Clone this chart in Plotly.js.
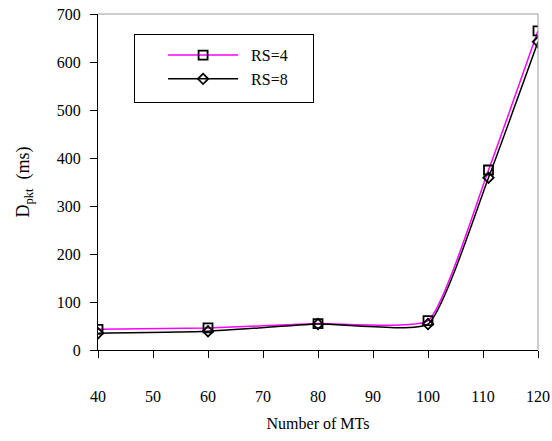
<!DOCTYPE html>
<html>
<head>
<meta charset="utf-8">
<script src="https://cdn.plot.ly/plotly-3.0.1.min.js"></script>
<style>html,body{margin:0;padding:0;background:#fff;}#chart{width:552px;height:441px;}</style>
</head>
<body>
<div id="chart"></div>
<script>
var numMTs = [40, 60, 80, 100, 111, 120];
var rs4 = [43, 46, 55, 61, 375, 665];
var rs8 = [35, 39, 54, 54, 359, 642];
var seriesNames = ['RS=4', 'RS=8'];
var xTicks = [40, 50, 60, 70, 80, 90, 100, 110, 120];
var yTicks = [0, 100, 200, 300, 400, 500, 600, 700];

var fam = '"Liberation Serif", "Times New Roman", Times, serif';
function F(size){ return {family: fam, size: size || 16, color: '#000'}; }

var traces = [
  {x: numMTs, y: rs4, name: seriesNames[0], type: 'scatter', mode: 'lines+markers',
   line: {color: '#ff00ff', width: 1.5, shape: 'spline', smoothing: 0.45},
   marker: {symbol: 'square-open', size: 9, color: '#000', line: {color: '#000', width: 1.8}}},
  {x: numMTs, y: rs8, name: seriesNames[1], type: 'scatter', mode: 'lines+markers',
   line: {color: '#000', width: 1.5, shape: 'spline', smoothing: 0.45},
   marker: {symbol: 'diamond-open', size: 8, color: '#000', line: {color: '#000', width: 1.8}}}
];

var layout = {
  width: 552, height: 441,
  margin: {l: 98, r: 14, t: 14, b: 91, pad: 0},
  paper_bgcolor: '#fff', plot_bgcolor: '#fff',
  font: F(16),
  showlegend: true,
  legend: {x: 0.082, y: 0.94, xanchor: 'left', yanchor: 'top',
    bordercolor: '#000', borderwidth: 1, bgcolor: 'rgba(255,255,255,0)',
    font: F(16), itemwidth: 106, tracegroupgap: 0},
  xaxis: {range: [40, 120], tickvals: xTicks, ticktext: xTicks.map(String),
    showgrid: false, zeroline: false, showline: true, linecolor: '#000', linewidth: 1,
    ticks: 'outside', ticklen: 7, tickcolor: '#000', tickfont: F(16),
    ticklabelstandoff: 25,
    title: {text: 'Number of MTs', font: F(16), standoff: 13}},
  yaxis: {range: [0, 700], tickvals: yTicks, ticktext: yTicks.map(String),
    showgrid: false, zeroline: false, showline: true, linecolor: '#000', linewidth: 1,
    ticks: 'outside', ticklen: 7, tickcolor: '#000', tickfont: F(16),
    ticklabelstandoff: 6,
    title: {text: 'D<sub>pkt</sub>  (ms)', font: F(18), standoff: 22}},
  shapes: [
    {type: 'line', xref: 'paper', yref: 'paper', x0: 0, x1: 1, y0: 1, y1: 1, line: {color: '#9a9a9a', width: 1}},
    {type: 'line', xref: 'paper', yref: 'paper', x0: 1, x1: 1, y0: 0, y1: 1, line: {color: '#9a9a9a', width: 1}}
  ]
};

Plotly.newPlot('chart', traces, layout, {displayModeBar: false, staticPlot: true}).then(function(gd){
  var items = gd.querySelectorAll('.legend .traces');
  items.forEach(function(it){
    it.querySelectorAll('.legendlines path').forEach(function(p){ p.setAttribute('d', 'M33,0h70'); });
    it.querySelectorAll('.legendpoints path').forEach(function(p){
      var t = p.getAttribute('transform') || '';
      p.setAttribute('transform', t.replace(/translate\(([^,]+),/, 'translate(68,'));
    });
  });
  var bg = gd.querySelector('.legend rect.bg');
  if (bg) { bg.setAttribute('width', 179); bg.setAttribute('height', 68); }
  var items2 = gd.querySelectorAll('.legend .traces');
  items2.forEach(function(it){
    var t = it.getAttribute('transform') || '';
    var m = t.match(/translate\(([^,]+),\s*([^)]+)\)/);
    if (m) it.setAttribute('transform', 'translate(' + m[1] + ',' + (parseFloat(m[2]) + 3) + ')');
  });
});
</script>
</body>
</html>
